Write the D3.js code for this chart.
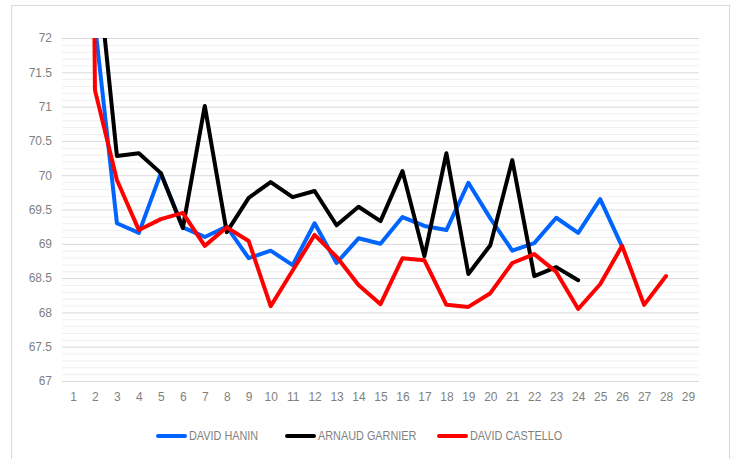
<!DOCTYPE html>
<html>
<head>
<meta charset="utf-8">
<script src="https://cdn.jsdelivr.net/npm/d3@7"></script>
<style>
  body { margin: 0; background: #fff; }
  #chart { display: block; }
</style>
</head>
<body>
<svg id="chart" width="734" height="459"></svg>
<script>
var laps = d3.range(1, 30);
var yTicks = [67, 67.5, 68, 68.5, 69, 69.5, 70, 70.5, 71, 71.5, 72];

var hanin = [80, 72.2, 69.3, 69.16, 70.03, 69.24, 69.1, 69.25, 68.79, 68.9, 68.69, 69.3, 68.72, 69.08, 69.0, 69.39, 69.26, 69.2, 69.89, 69.37, 68.9, 69.01, 69.38, 69.16, 69.65, 68.96];
var garnier = [80, 73.4, 70.28, 70.32, 70.03, 69.23, 71.01, 69.17, 69.67, 69.9, 69.68, 69.77, 69.27, 69.54, 69.33, 70.06, 68.82, 70.32, 68.56, 68.98, 70.22, 68.53, 68.66, 68.47];
var castello = [105, 71.24, 69.93, 69.2, 69.36, 69.45, 68.97, 69.24, 69.04, 68.09, 68.61, 69.13, 68.81, 68.4, 68.12, 68.79, 68.76, 68.11, 68.08, 68.28, 68.72, 68.85, 68.59, 68.05, 68.41, 68.97, 68.11, 68.53];

var seriesNames = ["DAVID HANIN", "ARNAUD GARNIER", "DAVID CASTELLO"];
var seriesColors = ["#0064ff", "#000000", "#ff0000"];
var seriesValues = [hanin, garnier, castello];

var svg = d3.select("#chart");
var margin = {top: 38, right: 35, bottom: 78, left: 62};
var width = 734 - margin.left - margin.right;
var height = 459 - margin.top - margin.bottom;

// chart frame
svg.append("rect")
    .attr("x", 11.5).attr("y", 5.5)
    .attr("width", 718).attr("height", 470)
    .attr("fill", "#fff")
    .attr("stroke", "#d9d9d9");

var x = d3.scalePoint()
    .domain(laps)
    .range([0, width])
    .padding(0.5);

var y = d3.scaleLinear()
    .domain([67, 72])
    .range([height, 0]);

var g = svg.append("g").attr("transform", "translate(" + margin.left + "," + margin.top + ")");

svg.append("clipPath").attr("id", "plotclip")
  .append("rect")
    .attr("x", margin.left).attr("y", margin.top)
    .attr("width", width).attr("height", height);

// minor grid (0.1 step) then major grid
var minor = d3.range(670, 720, 1).map(function(d){ return d / 10; })
    .filter(function(d){ return Math.round(d * 10) % 5 != 0; });

g.append("g")
    .attr("class", "minor-grid")
    .call(d3.axisLeft(y).tickValues(minor).tickSize(-width).tickFormat(""))
    .call(function(a){ a.select(".domain").remove(); })
    .selectAll("line")
    .attr("stroke", "#efefef")
    .attr("stroke-width", 1);

g.append("g")
    .attr("class", "major-grid")
    .call(d3.axisLeft(y).tickValues(yTicks).tickSize(-width).tickFormat(""))
    .call(function(a){ a.select(".domain").remove(); })
    .selectAll("line")
    .attr("stroke", "#d9d9d9")
    .attr("stroke-width", 1);

// y labels
g.append("g")
    .attr("transform", "translate(-10,0)")
    .call(d3.axisLeft(y).tickValues(yTicks).tickSize(0).tickPadding(0)
        .tickFormat(function(d){ return String(d); }))
    .call(function(a){ a.select(".domain").remove(); })
    .selectAll("text")
    .attr("fill", "#7f7f7f")
    .attr("font-family", "'Liberation Sans', Arial, sans-serif")
    .attr("font-size", 12);

// x labels
g.append("g")
    .attr("transform", "translate(0," + (height + 11) + ")")
    .call(d3.axisBottom(x).tickSize(0).tickPadding(0))
    .call(function(a){ a.select(".domain").remove(); })
    .selectAll("text")
    .attr("fill", "#7f7f7f")
    .attr("font-family", "'Liberation Sans', Arial, sans-serif")
    .attr("font-size", 12);

var line = d3.line()
    .defined(function(d){ return d != null; })
    .x(function(d, i){ return x(laps[i]); })
    .y(function(d){ return y(d); });

var lines = svg.append("g")
    .attr("clip-path", "url(#plotclip)")
  .append("g")
    .attr("transform", "translate(" + margin.left + "," + margin.top + ")");

lines.selectAll(".serie")
    .data(seriesValues)
    .enter().append("path")
    .attr("class", "serie")
    .attr("d", line)
    .attr("fill", "none")
    .attr("stroke", function(d, i){ return seriesColors[i]; })
    .attr("stroke-width", 4)
    .attr("stroke-linejoin", "round")
    .attr("stroke-linecap", "round");

// legend (text squeezed a bit, the original uses a narrow face)
var legendX = [157, 286, 438];
var legend = svg.append("g").attr("class", "legend");
var item = legend.selectAll("g")
    .data(seriesNames)
    .enter().append("g")
    .attr("transform", function(d, i){ return "translate(" + legendX[i] + ",436)"; });

item.append("line")
    .attr("x1", 1).attr("x2", 28)
    .attr("stroke", function(d, i){ return seriesColors[i]; })
    .attr("stroke-width", 4)
    .attr("stroke-linecap", "round");

item.append("text")
    .attr("transform", "translate(32,0) scale(0.87,1)")
    .attr("dy", "0.35em")
    .text(function(d){ return d; })
    .attr("fill", "#7f7f7f")
    .attr("font-family", "'Liberation Sans', Arial, sans-serif")
    .attr("font-size", 12.5);
</script>
</body>
</html>
